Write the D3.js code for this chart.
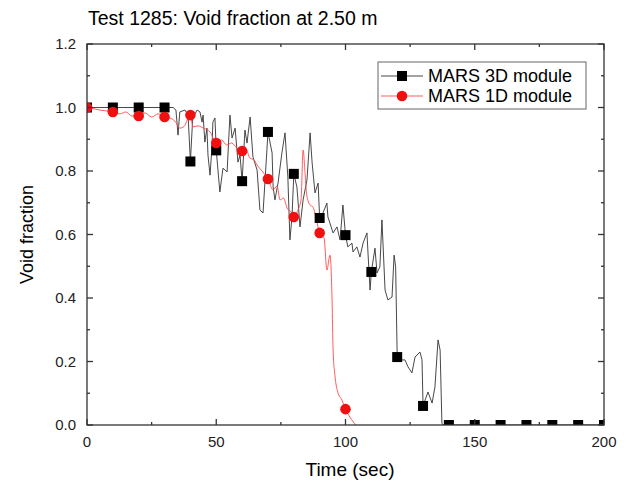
<!DOCTYPE html>
<html lang="en">
<head>
  <meta charset="UTF-8">
  <title>Test 1285: Void fraction at 2.50 m</title>
  <style>
    body {
      margin: 0;
      background-color: #fff;
    }
    svg {
      display: block;
      background-color: #fff;
      font-family: "Liberation Sans", Arial, sans-serif;
    }
  </style>
  <script src="https://d3js.org/d3.v7.min.js"></script>
</head>
<body>
  <svg width="629" height="484"></svg>

  <script>
    // MARS 3D module: time (sec) and void fraction
    const time3D = [0, 33.3, 34.4, 34.8, 35.2, 35.9, 37.9, 39.1, 40, 40.9, 42.6, 43.7, 44.5, 44.9,
      45.6, 46.4, 46.8, 47.6, 48.4, 48.7, 49.5, 50, 51.4, 52.6, 54.2, 55.3, 56.1, 57.3, 58.4, 59.2,
      60, 61.1, 61.9, 63.1, 64.2, 65.8, 66.9, 68.1, 69.6, 70, 71.6, 72, 72.7, 73.9, 75.4, 76.6,
      77.7, 78.5, 79.3, 80, 81.2, 82.4, 83.6, 85.1, 86.3, 87.1, 88.2, 89.4, 90, 91.3, 92.8, 93.2,
      95.2, 96.7, 97.9, 99, 100, 100.9, 102.5, 102.9, 104.4, 105.6, 106.8, 108.3, 108.7, 109.5,
      110, 111.4, 112.2, 113.3, 114.1, 115.3, 116.4, 118, 118.8, 119.4, 120, 121.9, 123, 124.2,
      125.7, 126.9, 128.8, 129.6, 130, 131.9, 133.5, 134.6, 135.8, 136.6, 137.3, 137.7, 200];
    const void3D = [1.0, 1.0, 0.992, 0.954, 0.913, 0.986, 0.992, 0.976, 0.83, 0.967, 0.992, 0.986,
      0.954, 0.976, 0.891, 0.935, 0.85, 0.787, 0.882, 0.954, 0.967, 0.865, 0.734, 0.809, 0.797,
      0.976, 0.904, 0.935, 0.828, 0.85, 0.768, 0.929, 0.888, 0.97, 0.844, 0.803, 0.677, 0.668,
      0.866, 0.923, 0.857, 0.75, 0.709, 0.762, 0.857, 0.92, 0.781, 0.583, 0.655, 0.791, 0.75,
      0.624, 0.709, 0.772, 0.92, 0.825, 0.731, 0.762, 0.652, 0.668, 0.699, 0.655, 0.605, 0.624,
      0.583, 0.693, 0.598, 0.561, 0.573, 0.545, 0.561, 0.529, 0.573, 0.605, 0.542, 0.425, 0.482,
      0.557, 0.479, 0.498, 0.646, 0.425, 0.394, 0.403, 0.535, 0.498, 0.214, 0.205, 0.205, 0.183,
      0.164, 0.214, 0.23, 0.205, 0.06, 0.104, 0.069, 0.12, 0.268, 0.236, 0.006, 0, 0];

    // MARS 1D module
    const time1D = [0, 5, 10, 12.8, 15, 17.4, 20, 22.4, 25, 27.5, 30, 32, 34, 36, 37.5, 40, 41,
      43, 45, 47.6, 50, 52, 54, 56, 58, 60, 61.5, 63, 64.6, 65.8, 68, 70, 72, 73.5, 74.7, 76,
      77.4, 79.3, 80, 81.6, 82.8, 83.6, 84.4, 85, 86.3, 87.4, 88.6, 90, 91.7, 92.8, 94, 94.8,
      95.2, 95.9, 97, 98.6, 100, 101.7, 104];
    const void1D = [1.0, 0.992, 0.986, 0.98, 0.986, 0.973, 0.973, 0.983, 0.97, 0.98, 0.97, 0.967,
      0.957, 0.935, 0.94, 0.976, 0.939, 0.942, 0.935, 0.923, 0.888, 0.898, 0.882, 0.888, 0.872,
      0.863, 0.869, 0.841, 0.835, 0.819, 0.797, 0.775, 0.74, 0.753, 0.709, 0.715, 0.683, 0.668,
      0.655, 0.677, 0.709, 0.866, 0.787, 0.724, 0.693, 0.687, 0.652, 0.605, 0.589, 0.488, 0.535,
      0.394, 0.236, 0.157, 0.104, 0.079, 0.05, 0.025, 0];

    // symbol positions
    const mark3DTime = [0, 10, 20, 30, 40, 50, 60, 70, 80, 90, 100, 110, 120, 130, 140, 150, 160, 170, 180, 190, 200];
    const mark3D = [1.0, 1.0, 1.0, 1.0, 0.83, 0.865, 0.768, 0.923, 0.791, 0.652, 0.598, 0.482, 0.214, 0.06, 0, 0, 0, 0, 0, 0, 0];
    const mark1DTime = [0, 10, 20, 30, 40, 50, 60, 70, 80, 90, 100];
    const mark1D = [1.0, 0.986, 0.973, 0.97, 0.976, 0.888, 0.863, 0.775, 0.655, 0.605, 0.05];

    const xTicks = [0, 50, 100, 150, 200];
    const yTicks = [0, 0.2, 0.4, 0.6, 0.8, 1.0, 1.2];

    const svg = d3.select("svg");
    const pLeft = 87, pRight = 604, pTop = 44, pBottom = 425;

    const x = d3.scaleLinear().domain([0, 200]).range([pLeft, pRight]);
    const y = d3.scaleLinear().domain([0, 1.2]).range([pBottom, pTop]);

    svg.append("text")
      .attr("x", 88)
      .attr("y", 25)
      .attr("font-size", 19.5)
      .text("Test 1285: Void fraction at 2.50 m");

    svg.append("clipPath").attr("id", "plot")
      .append("rect")
      .attr("x", pLeft).attr("y", pTop)
      .attr("width", pRight - pLeft).attr("height", pBottom - pTop);

    const g = svg.append("g").attr("clip-path", "url(#plot)");

    const line = d3.line().x(d => x(d[0])).y(d => y(d[1]));

    g.append("path")
      .datum(time3D.map((t, i) => [t, void3D[i]]))
      .attr("fill", "none")
      .attr("stroke", "#333")
      .attr("stroke-width", 0.9)
      .attr("d", line);

    g.append("path")
      .datum(time1D.map((t, i) => [t, void1D[i]]))
      .attr("fill", "none")
      .attr("stroke", "#ff4a4a")
      .attr("stroke-width", 0.9)
      .attr("d", line.curve(d3.curveMonotoneX));

    g.selectAll("rect.m3")
      .data(mark3DTime.map((t, i) => [t, mark3D[i]]))
      .enter().append("rect")
      .attr("class", "m3")
      .attr("x", d => x(d[0]) - 5)
      .attr("y", d => y(d[1]) - 5)
      .attr("width", 10).attr("height", 10)
      .attr("fill", "#000");

    g.selectAll("circle.m1")
      .data(mark1DTime.map((t, i) => [t, mark1D[i]]))
      .enter().append("circle")
      .attr("class", "m1")
      .attr("cx", d => x(d[0]))
      .attr("cy", d => y(d[1]))
      .attr("r", 5.3)
      .attr("fill", "#f01010");

    // axes with inward ticks on all four sides
    const axes = svg.append("g").attr("stroke", "#333").attr("stroke-width", 1.3);
    axes.append("rect")
      .attr("x", pLeft).attr("y", pTop)
      .attr("width", pRight - pLeft).attr("height", pBottom - pTop)
      .attr("fill", "none");

    const xMinor = [25, 75, 125, 175];
    const yMinor = [0.1, 0.3, 0.5, 0.7, 0.9, 1.1];

    xTicks.forEach(t => {
      axes.append("line").attr("x1", x(t)).attr("x2", x(t)).attr("y1", pBottom).attr("y2", pBottom - 6);
      axes.append("line").attr("x1", x(t)).attr("x2", x(t)).attr("y1", pTop).attr("y2", pTop + 6);
    });
    xMinor.forEach(t => {
      axes.append("line").attr("x1", x(t)).attr("x2", x(t)).attr("y1", pBottom).attr("y2", pBottom - 3);
      axes.append("line").attr("x1", x(t)).attr("x2", x(t)).attr("y1", pTop).attr("y2", pTop + 3);
    });
    yTicks.forEach(v => {
      axes.append("line").attr("x1", pLeft).attr("x2", pLeft + 6).attr("y1", y(v)).attr("y2", y(v));
      axes.append("line").attr("x1", pRight).attr("x2", pRight - 6).attr("y1", y(v)).attr("y2", y(v));
    });
    yMinor.forEach(v => {
      axes.append("line").attr("x1", pLeft).attr("x2", pLeft + 3).attr("y1", y(v)).attr("y2", y(v));
      axes.append("line").attr("x1", pRight).attr("x2", pRight - 3).attr("y1", y(v)).attr("y2", y(v));
    });

    svg.append("g").selectAll("text")
      .data(xTicks)
      .enter().append("text")
      .attr("x", d => x(d))
      .attr("y", 447)
      .attr("text-anchor", "middle")
      .attr("font-size", 15)
      .attr("fill", "#222")
      .text(d => d);

    svg.append("g").selectAll("text")
      .data(yTicks)
      .enter().append("text")
      .attr("x", 76)
      .attr("y", d => y(d) + 5)
      .attr("text-anchor", "end")
      .attr("font-size", 15)
      .attr("fill", "#222")
      .text(d => d3.format(".1f")(d));

    svg.append("text")
      .attr("x", 350)
      .attr("y", 476)
      .attr("text-anchor", "middle")
      .attr("font-size", 19)
      .text("Time (sec)");

    svg.append("text")
      .attr("transform", `translate(33, ${y(0.6)}) rotate(-90)`)
      .attr("text-anchor", "middle")
      .attr("font-size", 18)
      .text("Void fraction");

    // legend
    const legend = svg.append("g").attr("transform", "translate(378, 62)");
    legend.append("rect")
      .attr("width", 208).attr("height", 47)
      .attr("fill", "#fff")
      .attr("stroke", "#666");

    legend.append("line").attr("x1", 3).attr("x2", 45).attr("y1", 14).attr("y2", 14)
      .attr("stroke", "#333").attr("stroke-width", 0.9);
    legend.append("rect").attr("x", 19).attr("y", 9).attr("width", 10).attr("height", 10).attr("fill", "#000");
    legend.append("text").attr("x", 50).attr("y", 20).attr("font-size", 18).text("MARS 3D module");

    legend.append("line").attr("x1", 3).attr("x2", 45).attr("y1", 34).attr("y2", 34)
      .attr("stroke", "#ff4a4a").attr("stroke-width", 0.9);
    legend.append("circle").attr("cx", 24).attr("cy", 34).attr("r", 5.3).attr("fill", "#f01010");
    legend.append("text").attr("x", 50).attr("y", 40).attr("font-size", 18).text("MARS 1D module");
  </script>
</body>
</html>
